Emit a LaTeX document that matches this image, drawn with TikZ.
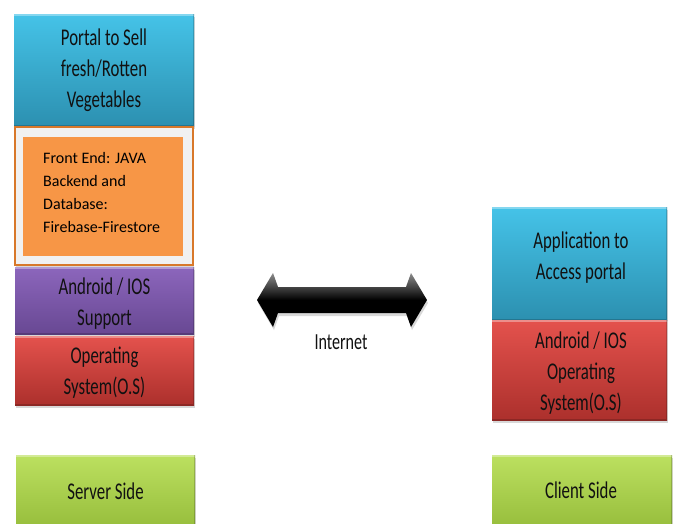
\documentclass[tikz,border=0pt]{standalone}
\usepackage{fontspec}
\setmainfont{Carlito}[FakeStretch=0.7]
\newfontfamily\plainfont{Carlito}
\usetikzlibrary{shadows,calc}
\definecolor{txt}{HTML}{111111}
\definecolor{blueT}{HTML}{45C3E8}
\definecolor{blueB}{HTML}{2C90B0}
\definecolor{purT}{HTML}{8C66BC}
\definecolor{purB}{HTML}{684893}
\definecolor{redT}{HTML}{E4524D}
\definecolor{redB}{HTML}{AC302C}
\definecolor{grnT}{HTML}{BCE060}
\definecolor{grnB}{HTML}{96BD3B}
\definecolor{orgIn}{HTML}{F79646}
\definecolor{orgLine}{HTML}{D8782A}
\definecolor{frameBg}{HTML}{F1F1F1}
\begin{document}
\begin{tikzpicture}[x=1pt,y=-1pt,
  bevel/.style={path picture={
    \draw[white,opacity=0.35,line width=3pt]
      (path picture bounding box.north west) -- (path picture bounding box.north east);
    \draw[black,opacity=0.18,line width=3pt]
      (path picture bounding box.south west) -- (path picture bounding box.south east)
      -- (path picture bounding box.north east);}},
  box/.style={rectangle, draw=none, inner sep=0pt, bevel,
    drop shadow={opacity=0.3,shadow xshift=1pt,shadow yshift=-3pt}},
  bluebox/.style={box, top color=blueT, bottom color=blueB},
  purbox/.style={box, top color=purT, bottom color=purB},
  redbox/.style={box, top color=redT, bottom color=redB},
  grnbox/.style={box, top color=grnT, bottom color=grnB},
  lbl/.style={align=center, inner sep=0pt, text=txt, font=\fontsize{24}{31}\selectfont},
  orglbl/.style={align=left, inner sep=0pt, text=black, font=\plainfont\fontsize{16}{23}\selectfont},
]
\useasboundingbox[fill=white] (0,0) rectangle (673,523);

% ---------- left stack ----------
\node[bluebox, minimum width=180pt, minimum height=112pt] (lblue) at (104,70) {};
\node[lbl] (lbluet) at (104,70.5) {Portal to Sell\\fresh/Rotten\\Vegetables};

\node[rectangle, inner sep=0pt, fill=frameBg, draw=orgLine, line width=2pt, minimum width=178pt, minimum height=138pt,
      drop shadow={opacity=0.3,shadow xshift=1pt,shadow yshift=-3pt}] (lframe) at (104,196) {};
\node[rectangle, fill=orgIn, inner sep=0pt, minimum width=160pt, minimum height=119pt] (lorange) at (103,196.5) {};
\node[orglbl, anchor=west] (lorangetxt) at (43,192) {Front End: JAVA\\Backend and\\Database:\\Firebase-Firestore};

\node[purbox, minimum width=179pt, minimum height=67pt] (lpur) at (104.5,300.5) {};
\node[lbl] (lpurt) at (104.5,304) {Android / IOS\\Support};

\node[redbox, minimum width=179pt, minimum height=69pt] (lred) at (104.5,370.5) {};
\node[lbl] (lredt) at (104.5,373) {Operating\\System(O.S)};

\node[grnbox, minimum width=179pt, minimum height=74pt] (lgrn) at (105.5,492) {};
\node[lbl] (lgrnt) at (105.5,491) {Server Side};

% ---------- right stack ----------
\node[bluebox, minimum width=175pt, minimum height=113pt] (rblue) at (579.5,263.5) {};
\node[lbl] (rbluet) at (581,258) {Application to\\Access portal};

\node[redbox, minimum width=175pt, minimum height=100pt] (rred) at (579.5,370) {};
\node[lbl] (rredt) at (581,373.5) {Android / IOS\\Operating\\System(O.S)};

\node[grnbox, minimum width=180pt, minimum height=74pt] (rgrn) at (582,492) {};
\node[lbl] (rgrnt) at (581,490) {Client Side};

% ---------- internet arrow ----------
\coordinate (aL) at (257,300);
\coordinate (aR) at (427,300);
\path[top color=black!45, bottom color=black, middle color=black,
      drop shadow={opacity=0.3,shadow xshift=1pt,shadow yshift=-3pt}]
  (aL) -- ($(aL)+(16,-27)$) -- ($(aL)+(21,-13)$) -- ($(aR)+(-21,-13)$)
  -- ($(aR)+(-16,-27)$) -- (aR) -- ($(aR)+(-16,27)$) -- ($(aR)+(-21,13)$)
  -- ($(aL)+(21,13)$) -- ($(aL)+(16,27)$) -- cycle;
\node[inner sep=0pt, text=txt, font=\fontsize{23}{26}\selectfont] (inet) at (341,342) {Internet};
\end{tikzpicture}
\end{document}
